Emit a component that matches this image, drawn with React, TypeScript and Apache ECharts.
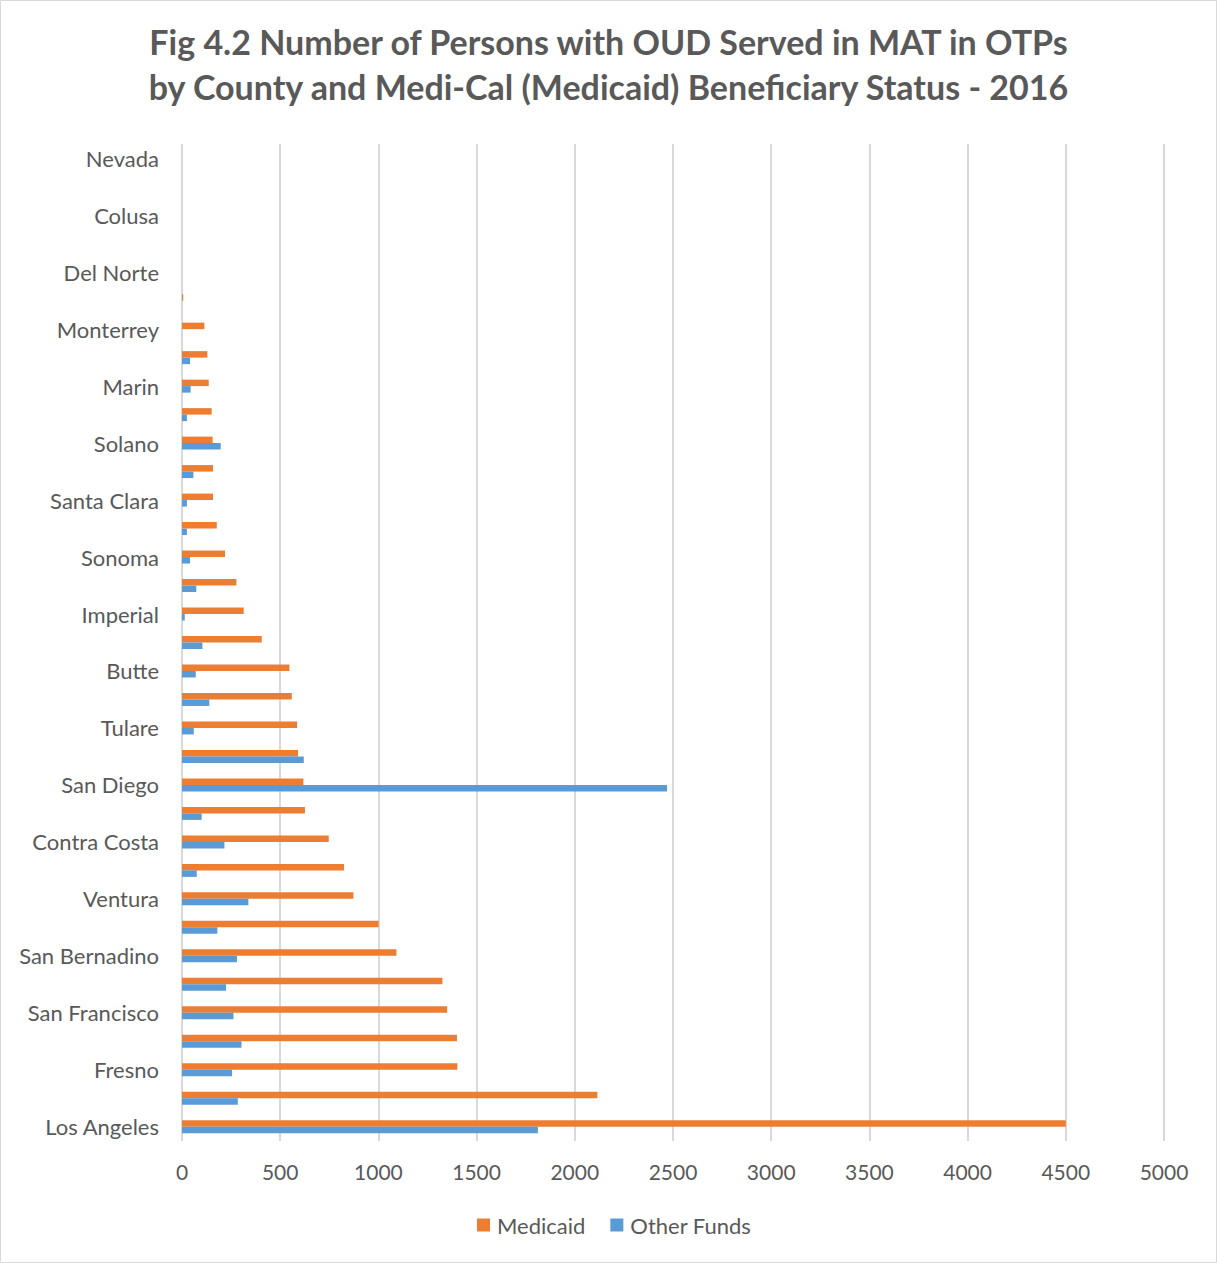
import React, { useEffect, useRef } from "react";
import * as echarts from "echarts";

const categories = [
  "Los Angeles", "Orange", "Fresno", "Sacramento", "San Francisco", "Alameda",
  "San Bernadino", "Riverside", "Ventura", "Kern", "Contra Costa", "San Joaquin",
  "San Diego", "Stanislaus", "Tulare", "Santa Barbara", "Butte", "San Mateo",
  "Imperial", "Humboldt", "Sonoma", "Shasta", "Santa Clara", "Merced",
  "Solano", "Santa Cruz", "Marin", "Placer", "Monterrey", "Mendocino",
  "Del Norte", "Lake", "Colusa", "Yolo", "Nevada",
];

const medicaid = [
  4500, 2115, 1402, 1400, 1350, 1326, 1092, 1001, 873, 825, 747, 626, 618, 591,
  586, 559, 547, 406, 314, 277, 219, 177, 158, 158, 156, 151, 136, 129, 114, 6,
  0, 0, 0, 0, 0,
];

const otherFunds = [
  1812, 284, 255, 303, 262, 224, 280, 180, 338, 75, 216, 100, 2470, 620, 60,
  139, 70, 104, 14, 73, 41, 25, 25, 58, 197, 25, 44, 41, 0, 0, 0, 0, 0, 0, 0,
];

const seriesNames = ["Medicaid", "Other Funds"];
const titleText =
  "Fig 4.2 Number of Persons with OUD Served in MAT in OTPs\nby County and Medi-Cal (Medicaid) Beneficiary Status - 2016";

const FONT = "Lato, 'Open Sans', sans-serif";

export default function App() {
  const ref = useRef<HTMLDivElement>(null);
  useEffect(() => {
    document.body.style.margin = "0";
    if (!ref.current) return;
    const chart = echarts.init(ref.current, null, { renderer: "svg" });
    chart.setOption({
      animation: false,
      backgroundColor: "#ffffff",
      title: {
        text: titleText,
        left: "center",
        top: 14,
        textStyle: {
          fontFamily: FONT,
          fontSize: 34,
          fontWeight: "bold",
          color: "#595959",
          lineHeight: 45,
        },
      },
      graphic: [
        {
          type: "rect",
          shape: { x: 0.5, y: 0.5, width: 1216, height: 1262 },
          style: { fill: "none", stroke: "#d9d9d9", lineWidth: 1 },
          silent: true,
        },
      ],
      legend: {
        data: seriesNames,
        left: 472,
        top: 1209,
        itemWidth: 13,
        itemHeight: 13,
        itemGap: 25,
        icon: "rect",
        textStyle: { fontFamily: FONT, fontSize: 22, color: "#595959", padding: [0, 0, 0, 2] },
      },
      grid: { left: 182, right: 53, top: 144, bottom: 122, containLabel: false },
      xAxis: {
        type: "value",
        min: 0,
        max: 5000,
        interval: 500,
        axisLine: { show: false },
        axisTick: { show: false },
        axisLabel: {
          fontFamily: FONT,
          fontSize: 21,
          color: "#595959",
          margin: 20,
          formatter: (v: number) => String(v),
        },
        splitLine: { show: true, lineStyle: { color: "#d9d9d9", width: 2 } },
      },
      yAxis: {
        type: "category",
        data: categories,
        axisLine: { show: false },
        axisTick: { show: false },
        splitLine: { show: false },
        axisLabel: {
          interval: 1,
          fontFamily: FONT,
          fontSize: 22,
          color: "#595959",
          margin: 23,
        },
      },
      series: [
        {
          name: "Medicaid",
          type: "bar",
          data: medicaid,
          barWidth: 6.5,
          barGap: "0%",
          itemStyle: { color: "#ED7D31" },
        },
        {
          name: "Other Funds",
          type: "bar",
          data: otherFunds,
          barWidth: 6.5,
          barGap: "0%",
          itemStyle: { color: "#5B9BD5" },
        },
      ],
    });
    return () => chart.dispose();
  }, []);
  return <div ref={ref} style={{ width: 1217, height: 1263 }} />;
}
